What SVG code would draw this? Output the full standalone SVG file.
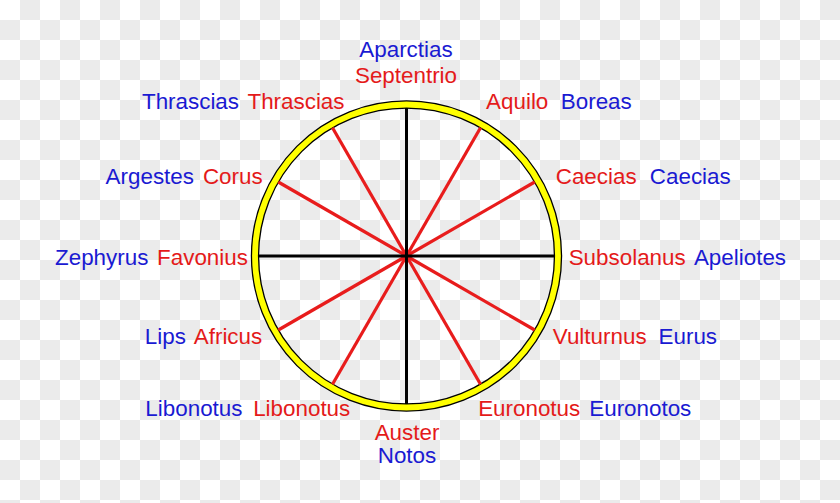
<svg xmlns="http://www.w3.org/2000/svg" width="840" height="503" viewBox="0 0 840 503">
  <defs>
    <pattern id="checker" x="0" y="0" width="40" height="40" patternUnits="userSpaceOnUse">
      <rect x="0" y="0" width="40" height="40" fill="#ffffff"/>
      <rect x="20" y="0" width="20" height="20" fill="#ebebeb"/>
      <rect x="0" y="20" width="20" height="20" fill="#ebebeb"/>
    </pattern>
  </defs>
  <style>
    text { font-family: "Liberation Sans", Arial, sans-serif; font-size: 22.4px; text-anchor: middle; }
    .lat { fill: #e41a1a; }
    .gr { fill: #1a1ad2; }
    .axis { stroke: #000000; stroke-width: 3; fill: none; }
    .spoke { stroke: #e81c1c; stroke-width: 3.2; fill: none; }
  </style>
  <rect x="0" y="0" width="840" height="503" fill="url(#checker)"/>

  <g id="ring">
    <circle cx="406.5" cy="256" r="151.5" fill="none" stroke="#000000" stroke-width="8.4"/>
    <circle cx="406.5" cy="256" r="151.5" fill="none" stroke="#ffff00" stroke-width="5.8"/>
  </g>

  <g id="connectors">
    <line class="spoke" x1="406.5" y1="256" x2="480.5" y2="127.8"/>
    <line class="spoke" x1="406.5" y1="256" x2="534.7" y2="182"/>
    <line class="spoke" x1="406.5" y1="256" x2="534.7" y2="330"/>
    <line class="spoke" x1="406.5" y1="256" x2="480.5" y2="384.2"/>
    <line class="spoke" x1="406.5" y1="256" x2="332.5" y2="384.2"/>
    <line class="spoke" x1="406.5" y1="256" x2="278.3" y2="330"/>
    <line class="spoke" x1="406.5" y1="256" x2="278.3" y2="182"/>
    <line class="spoke" x1="406.5" y1="256" x2="332.5" y2="127.8"/>
    <line class="axis" x1="406.5" y1="108" x2="406.5" y2="404"/>
    <line class="axis" x1="258.5" y1="256" x2="554.5" y2="256"/>
  </g>

  <g id="north">
    <text class="gr" x="406" y="57">Aparctias</text>
    <text class="lat" x="406" y="82.5">Septentrio</text>
  </g>
  <g id="nnw">
    <text class="gr" x="190.5" y="109">Thrascias</text>
    <text class="lat" x="296" y="109">Thrascias</text>
  </g>
  <g id="nne">
    <text class="lat" x="517.2" y="109">Aquilo</text>
    <text class="gr" x="596.3" y="109">Boreas</text>
  </g>
  <g id="wnw">
    <text class="gr" x="149.8" y="184.3">Argestes</text>
    <text class="lat" x="232.8" y="184.3">Corus</text>
  </g>
  <g id="ene">
    <text class="lat" x="596.2" y="184.3">Caecias</text>
    <text class="gr" x="690.3" y="184.3">Caecias</text>
  </g>
  <g id="west">
    <text class="gr" x="101.7" y="265">Zephyrus</text>
    <text class="lat" x="202.5" y="265">Favonius</text>
  </g>
  <g id="east">
    <text class="lat" x="627.2" y="265">Subsolanus</text>
    <text class="gr" x="740" y="265">Apeliotes</text>
  </g>
  <g id="wsw">
    <text class="gr" x="165.3" y="344.3">Lips</text>
    <text class="lat" x="228" y="344.3">Africus</text>
  </g>
  <g id="ese">
    <text class="lat" x="599.7" y="344.3">Vulturnus</text>
    <text class="gr" x="687.8" y="344.3">Eurus</text>
  </g>
  <g id="ssw">
    <text class="gr" x="193.9" y="416">Libonotus</text>
    <text class="lat" x="301.7" y="416">Libonotus</text>
  </g>
  <g id="sse">
    <text class="lat" x="529.2" y="416">Euronotus</text>
    <text class="gr" x="640.3" y="416">Euronotos</text>
  </g>
  <g id="south">
    <text class="lat" x="407" y="440">Auster</text>
    <text class="gr" x="407" y="463">Notos</text>
  </g>
</svg>
